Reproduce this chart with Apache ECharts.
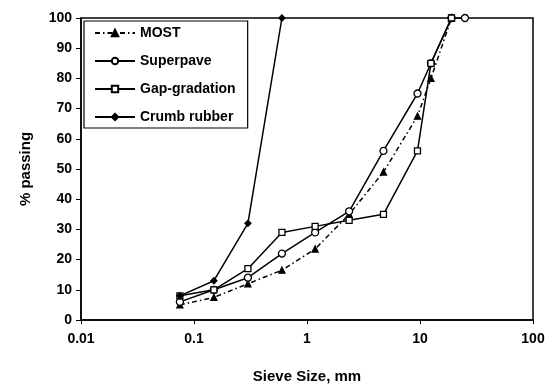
<!DOCTYPE html>
<html>
<head>
<meta charset="utf-8">
<script src="https://cdn.jsdelivr.net/npm/echarts@6/dist/echarts.min.js"></script>
<style>
  html, body { margin: 0; padding: 0; background: #fff; }
  #chart { width: 554px; height: 387px; }
</style>
</head>
<body>
<div id="chart"></div>
<script>
// sieve sizes (mm) and % passing
const mostSieve = [0.075, 0.15, 0.3, 0.6, 1.18, 2.36, 4.75, 9.5, 12.5, 19];
const mostPassing = [5, 7.5, 12, 16.5, 23.5, 35, 49, 67.5, 80, 100];

const superpaveSieve = [0.075, 0.15, 0.3, 0.6, 1.18, 2.36, 4.75, 9.5, 12.5, 19, 25];
const superpavePassing = [6, 10, 14, 22, 29, 36, 56, 75, 85, 100, 100];

const gapSieve = [0.075, 0.15, 0.3, 0.6, 1.18, 2.36, 4.75, 9.5, 12.5, 19];
const gapPassing = [8, 10, 17, 29, 31, 33, 35, 56, 85, 100];

const crumbSieve = [0.075, 0.15, 0.3, 0.6];
const crumbPassing = [8, 13, 32, 100];

const pairs = (xs, ys) => xs.map((x, i) => [x, ys[i]]);

const chart = echarts.init(document.getElementById("chart"));

const font = "Liberation Sans, Arial, sans-serif";

// common style for every line
const lineSeries = (name, data, symbol, size, filled, dash) => ({
  name: name,
  type: "line",
  data: data,
  symbol: symbol,
  symbolSize: size,
  showAllSymbol: true,
  lineStyle: { color: "#000", width: 1.5, type: dash || "solid" },
  itemStyle: {
    color: filled ? "#000" : "#fff",
    borderColor: "#000",
    borderWidth: 1.3,
  },
  z: 3,
});

chart.setOption({
  animation: false,
  grid: {
    left: 81,
    right: 21,
    top: 18,
    bottom: 67,
    outerBoundsMode: "none",
    show: true,
    borderColor: "#000",
    borderWidth: 1.5,
  },
  legend: {
    orient: "vertical",
    left: 84,
    top: 21,
    padding: [5, 12, 4, 10],
    itemGap: 14,
    itemWidth: 40,
    itemHeight: 8,
    backgroundColor: "#fff",
    borderColor: "#000",
    borderWidth: 1.2,
    borderRadius: 0,
    textStyle: { fontFamily: font, fontSize: 14, fontWeight: "bold", color: "#000" },
    data: ["MOST", "Superpave", "Gap-gradation", "Crumb rubber"],
  },
  xAxis: {
    type: "log",
    logBase: 10,
    min: 0.01,
    max: 100,
    name: "Sieve Size, mm",
    nameLocation: "middle",
    nameGap: 49,
    nameTextStyle: { fontFamily: font, fontSize: 15, fontWeight: "bold", color: "#000" },
    axisLine: { lineStyle: { color: "#000", width: 1.5 } },
    axisTick: { show: true, length: 4, lineStyle: { color: "#000" } },
    minorTick: { show: false },
    splitLine: { show: false },
    axisLabel: {
      fontFamily: font,
      fontSize: 14,
      fontWeight: "bold",
      color: "#000",
      margin: 12,
      formatter: (v) => String(v),
    },
  },
  yAxis: {
    type: "value",
    min: 0,
    max: 100,
    interval: 10,
    name: "% passing",
    nameLocation: "middle",
    nameGap: 48,
    nameTextStyle: { fontFamily: font, fontSize: 15, fontWeight: "bold", color: "#000" },
    axisLine: { show: true, lineStyle: { color: "#000", width: 1.5 } },
    axisTick: { show: true, length: 5, lineStyle: { color: "#000" } },
    splitLine: { show: false },
    axisLabel: { fontFamily: font, fontSize: 14, fontWeight: "bold", color: "#000", margin: 9 },
  },
  series: [
    lineSeries("MOST", pairs(mostSieve, mostPassing), "triangle", 6, true, [5, 3, 1.5, 3]),
    lineSeries("Superpave", pairs(superpaveSieve, superpavePassing), "circle", 7, false),
    lineSeries("Gap-gradation", pairs(gapSieve, gapPassing), "rect", 6, false),
    lineSeries("Crumb rubber", pairs(crumbSieve, crumbPassing), "diamond", 6, true),
  ],
});
</script>
</body>
</html>
